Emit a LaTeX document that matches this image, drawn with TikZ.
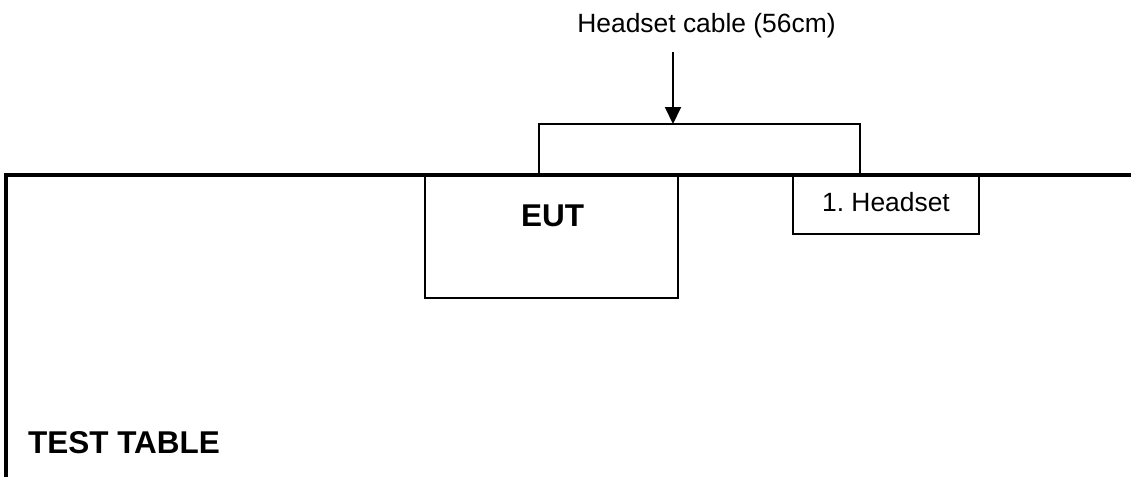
\documentclass[tikz,border=0pt]{standalone}
\usepackage{fontspec}
\setmainfont{Liberation Sans}
\usetikzlibrary{arrows.meta}
\begin{document}
\begin{tikzpicture}[x=0.5pt, y=-0.5pt, line width=1pt,
  box/.style={draw, rectangle, inner sep=0pt, line width=1pt},
  txt/.style={font=\fontsize{13.2}{15}\selectfont, anchor=base, inner sep=0pt},
  bold/.style={font=\fontsize{15.75}{18}\selectfont\bfseries, anchor=base, inner sep=0pt}]
  \useasboundingbox (0,0) rectangle (1131,477);
  \coordinate (TL) at (6,175); \coordinate (TR) at (1131,175); \coordinate (BL) at (6,477);
  \coordinate (c1) at (539,175); \coordinate (c2) at (860,175);
  \coordinate (tip) at (673,124); \coordinate (tail) at (673,52);
  % EUT und Headset
  \node[box, minimum width=126.5pt, minimum height=61.5pt] (eut) at (551.5,236.5) {};
  \node[bold] (eutlbl) at (552.5,226) {EUT};
  \node[box, minimum width=93pt, minimum height=29pt] (hs) at (886,204.5) {};
  \node[txt] (hslbl) at (886,211) {1.\ Headset};
  % Kabel
  \draw (c1) -- ++(0,-51) -| (c2);
  \node[txt] (cable) at (706.5,32) {Headset cable (56cm)};
  \draw[-{Triangle[length=8.5pt,width=8pt]}] (tail) -- (tip);
  % Tisch
  \draw[line width=2pt] (BL) -- (TL) -- (TR);
  \node[bold] (table) at (124,453) {TEST TABLE};
\end{tikzpicture}
\end{document}
